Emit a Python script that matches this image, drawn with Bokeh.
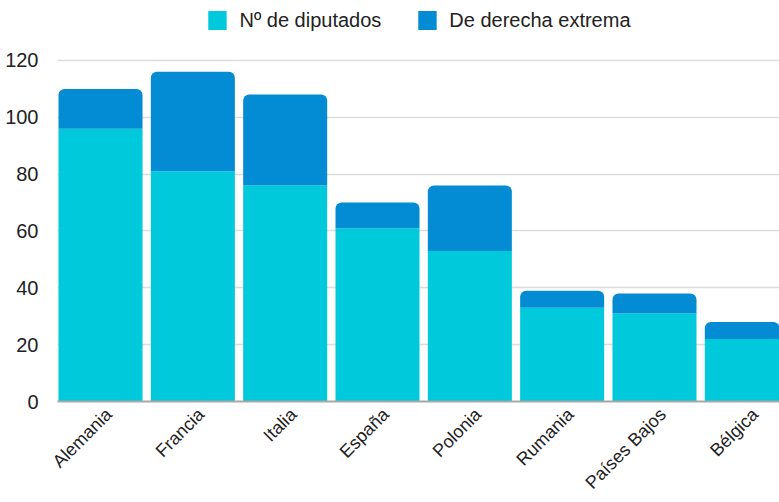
import math
from bokeh.plotting import figure
from bokeh.models import ColumnDataSource, Range1d, FixedTicker, Legend, LegendItem
from bokeh.embed import file_html
from bokeh.resources import INLINE

paises = ["Alemania", "Francia", "Italia", "España", "Polonia", "Rumania", "Países Bajos", "Bélgica"]
diputados = [96, 81, 76, 61, 53, 33, 31, 22]
derecha_extrema = [14, 35, 32, 9, 23, 6, 7, 6]
y_ticks = [0, 20, 40, 60, 80, 100, 120]

pos = list(range(len(paises)))
total = [a + b for a, b in zip(diputados, derecha_extrema)]
src = ColumnDataSource(dict(x=pos, dip=diputados, tot=total))

FONT = "Liberation Sans"
X0, X1 = -0.466, 7.354
p = figure(width=779, height=502, output_backend="svg", toolbar_location=None,
           x_range=Range1d(X0, X1), y_range=Range1d(0, 141.1),
           min_border_left=57, min_border_right=0, min_border_top=0, min_border_bottom=101)
p.outline_line_color = None

# label axis range shifted slightly so rotated labels sit like the reference
shift = 0.09
p.extra_x_ranges = {"lab": Range1d(X0 - shift, X1 - shift)}

r1 = p.vbar(x="x", top="dip", bottom=0, width=0.91, source=src,
            fill_color="#00C9DB", line_color=None)
r2 = p.vbar(x="x", top="tot", bottom="dip", width=0.91, source=src,
            fill_color="#038BD3", line_color=None, border_radius=(6, 6, 0, 0))

p.xgrid.grid_line_color = None
p.ygrid.grid_line_color = "#dcdcdc"
p.ygrid.grid_line_width = 1.5
p.yaxis.ticker = FixedTicker(ticks=y_ticks)
p.yaxis.axis_line_color = None
p.yaxis.major_tick_line_color = None
p.yaxis.minor_tick_line_color = None
p.yaxis.major_label_text_font = FONT
p.yaxis.major_label_text_font_size = "20px"
p.yaxis.major_label_text_color = "#222222"
p.yaxis.major_label_standoff = 13

xa = p.xaxis[0]
xa.x_range_name = "lab"
xa.ticker = FixedTicker(ticks=pos)
xa.major_label_overrides = {i: n for i, n in enumerate(paises)}
xa.major_label_orientation = math.pi / 4
xa.axis_line_color = "#a8a8a8"
xa.axis_line_width = 2
xa.major_tick_line_color = None
xa.minor_tick_line_color = None
xa.major_label_text_font = FONT
xa.major_label_text_font_size = "18px"
xa.major_label_text_color = "#222222"
xa.major_label_standoff = 4

legend = Legend(items=[LegendItem(label="Nº de diputados", renderers=[r1]),
                       LegendItem(label="De derecha extrema", renderers=[r2])],
                orientation="horizontal", location="top_center",
                glyph_width=23, glyph_height=24, label_text_font=FONT,
                label_text_font_size="20px", label_text_color="#222222",
                label_standoff=11, spacing=34, padding=6, margin=8,
                border_line_color=None, background_fill_alpha=0)
p.add_layout(legend)

open("out.html", "w").write(file_html(p, INLINE))
